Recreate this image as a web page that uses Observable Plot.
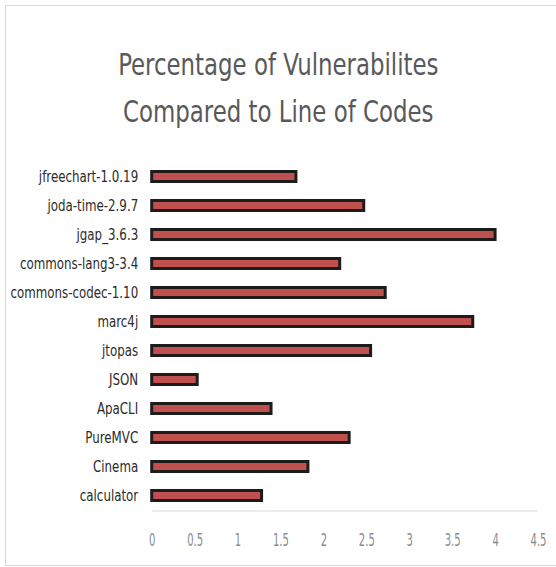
<!DOCTYPE html>
<html>
<head>
<meta charset="utf-8">
<script src="https://cdn.jsdelivr.net/npm/d3@7"></script>
<script src="https://cdn.jsdelivr.net/npm/@observablehq/plot@0.6"></script>
<style>
  html, body { margin: 0; padding: 0; background: #fff; }
  #wrap { position: relative; width: 556px; height: 567px; overflow: hidden; }
  #frame { position: absolute; left: 5px; top: 5px; width: 560px; height: 561px; border: 1.5px solid #d9d9d9; box-sizing: border-box; }
  #title { position: absolute; left: 0; width: 556px; top: 41px; text-align: center; font-family: "DejaVu Sans Condensed", "DejaVu Sans", sans-serif; font-size: 31px; line-height: 47px; color: #595959; }
  #title span { display: inline-block; transform: scaleX(0.82); transform-origin: center; white-space: nowrap; }
  #chart { position: absolute; left: 0; top: 150px; }
</style>
</head>
<body>
<div id="wrap">
  <div id="frame"></div>
  <div id="title"><span>Percentage of Vulnerabilites</span><br><span>Compared to Line of Codes</span></div>
  <div id="chart"></div>
</div>
<script>
const projects = ["jfreechart-1.0.19", "joda-time-2.9.7", "jgap_3.6.3", "commons-lang3-3.4", "commons-codec-1.10", "marc4j", "jtopas", "JSON", "ApaCLI", "PureMVC", "Cinema", "calculator"];
const percentages = [1.68, 2.47, 4.0, 2.19, 2.72, 3.74, 2.55, 0.53, 1.39, 2.30, 1.82, 1.28];
const xTicks = [0, 0.5, 1, 1.5, 2, 2.5, 3, 3.5, 4, 4.5];

const data = projects.map((p, i) => ({project: p, value: percentages[i]}));

const chart = Plot.plot({
  width: 556,
  height: 410,
  marginLeft: 151.7,
  marginRight: 18,
  marginTop: 10.4,
  marginBottom: 49.2,
  style: {fontFamily: "'DejaVu Sans Condensed', 'DejaVu Sans', sans-serif", fontSize: "13px", background: "transparent", overflow: "visible"},
  x: {domain: [0, 4.5]},
  y: {domain: projects, paddingInner: 0.55, paddingOuter: 0.275},
  marks: [
    Plot.barX(data, {x: "value", y: "project", fill: "#c0504d", stroke: "#1c1c1c", strokeWidth: 3, insetTop: 1.5, insetBottom: 1.5}),
    Plot.axisY({tickSize: 0, tickPadding: 14, label: null, fill: "#2b2b2b", fontSize: 15.5}),
    Plot.axisX({ticks: xTicks, tickFormat: d => String(d), tickSize: 0, tickPadding: 22, label: null, fill: "#8c8c8c", fontSize: 18})
  ]
});
const svg = d3.select(chart);
svg.insert("line", ":first-child").attr("x1", 151.7).attr("x2", 538).attr("y1", 361).attr("y2", 361).attr("stroke", "#d9d9d9").attr("stroke-width", 1.2);
// condense tick label glyphs to mimic the narrow original face
svg.selectAll('g[aria-label="y-axis tick label"] text').each(function() {
  const t = this.getAttribute("transform") || "";
  this.setAttribute("transform", t + " scale(0.85,1)");
});
svg.selectAll('g[aria-label="x-axis tick label"] text').each(function() {
  const t = this.getAttribute("transform") || "";
  this.setAttribute("transform", t + " scale(0.62,1)");
});
document.getElementById("chart").appendChild(chart);
</script>
</body>
</html>
